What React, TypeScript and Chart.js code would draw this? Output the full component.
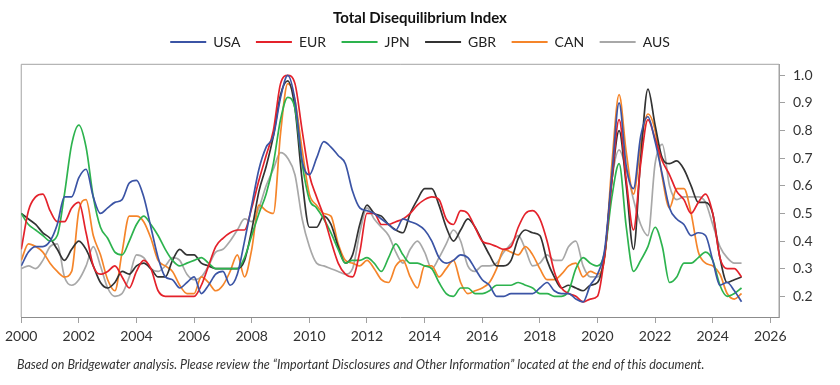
import React, { useEffect, useRef } from 'react';
import { Chart, registerables } from 'chart.js';

Chart.register(...registerables);

const FONT = 'Lato, "Noto Sans", sans-serif';
const TITLE = 'Total Disequilibrium Index';
const FOOTNOTE =
  'Based on Bridgewater analysis. Please review the \u201CImportant Disclosures and Other Information\u201D located at the end of this document.';

// Quarterly observations starting in 2000
const START_YEAR = 2000;
const QUARTERS_PER_YEAR = 4;

const X_TICKS = [2000, 2002, 2004, 2006, 2008, 2010, 2012, 2014, 2016, 2018, 2020, 2022, 2024, 2026];
const Y_TICKS = [0.2, 0.3, 0.4, 0.5, 0.6, 0.7, 0.8, 0.9, 1.0];

const USA = [
  0.31, 0.36, 0.38, 0.38,
  0.40, 0.46, 0.56, 0.56,
  0.63, 0.66, 0.56, 0.50,
  0.52, 0.54, 0.55, 0.61,
  0.62, 0.56, 0.45, 0.34,
  0.27, 0.26, 0.23, 0.25,
  0.27, 0.21, 0.24, 0.28,
  0.29, 0.24, 0.28, 0.40,
  0.53, 0.66, 0.74, 0.78,
  0.92, 1.00, 0.91, 0.69,
  0.64, 0.70, 0.76, 0.74,
  0.71, 0.68, 0.58, 0.52,
  0.51, 0.50, 0.48, 0.46,
  0.44, 0.48, 0.47, 0.46,
  0.44, 0.40, 0.34, 0.32,
  0.33, 0.35, 0.34, 0.30,
  0.26, 0.24, 0.20, 0.20,
  0.21, 0.21, 0.21, 0.21,
  0.23, 0.25, 0.22, 0.21,
  0.21, 0.19, 0.18, 0.24,
  0.28, 0.37, 0.64, 0.90,
  0.67, 0.59, 0.78, 0.85,
  0.76, 0.64, 0.52, 0.48,
  0.46, 0.42, 0.43, 0.42,
  0.33, 0.24, 0.25, 0.22,
  0.18,
];

const EUR = [
  0.37, 0.51, 0.56, 0.57,
  0.51, 0.47, 0.47, 0.52,
  0.54, 0.43, 0.31, 0.28,
  0.29, 0.31, 0.27, 0.23,
  0.29, 0.33, 0.30, 0.22,
  0.20, 0.20, 0.20, 0.20,
  0.20, 0.24, 0.31, 0.38,
  0.41, 0.43, 0.44, 0.44,
  0.52, 0.62, 0.71, 0.80,
  0.97, 1.00, 0.97, 0.80,
  0.64, 0.56, 0.49, 0.40,
  0.32, 0.28, 0.27, 0.36,
  0.50, 0.50, 0.46, 0.46,
  0.47, 0.48, 0.50, 0.53,
  0.55, 0.56, 0.55, 0.48,
  0.46, 0.51, 0.50, 0.45,
  0.40, 0.39, 0.38, 0.37,
  0.38, 0.45, 0.50, 0.51,
  0.48, 0.40, 0.29, 0.23,
  0.21, 0.20, 0.18, 0.19,
  0.20, 0.35, 0.62, 0.84,
  0.62, 0.44, 0.68, 0.84,
  0.77, 0.69, 0.64, 0.58,
  0.55, 0.50, 0.54, 0.57,
  0.50, 0.34, 0.30, 0.30,
  0.27,
];

const JPN = [
  0.50, 0.46, 0.44, 0.42,
  0.40, 0.42, 0.57, 0.75,
  0.82, 0.74, 0.56, 0.45,
  0.41, 0.36, 0.35, 0.40,
  0.46, 0.49, 0.46, 0.42,
  0.37, 0.33, 0.31, 0.32,
  0.33, 0.34, 0.32, 0.30,
  0.30, 0.30, 0.30, 0.34,
  0.42, 0.50, 0.57, 0.68,
  0.84, 0.92, 0.88, 0.68,
  0.55, 0.52, 0.48, 0.43,
  0.37, 0.32, 0.33, 0.33,
  0.34, 0.32, 0.29, 0.34,
  0.39, 0.35, 0.32, 0.32,
  0.31, 0.30, 0.25, 0.21,
  0.20, 0.23, 0.23, 0.21,
  0.21, 0.22, 0.24, 0.24,
  0.24, 0.25, 0.24, 0.23,
  0.21, 0.21, 0.20, 0.20,
  0.22, 0.30, 0.34, 0.32,
  0.31, 0.36, 0.56, 0.68,
  0.45, 0.29, 0.33, 0.38,
  0.45, 0.38, 0.25, 0.27,
  0.32, 0.32, 0.34, 0.36,
  0.33, 0.24, 0.20, 0.21,
  0.23,
];

const GBR = [
  0.50, 0.48, 0.46, 0.43,
  0.41, 0.37, 0.33, 0.37,
  0.40, 0.37, 0.31, 0.25,
  0.23, 0.25, 0.29, 0.28,
  0.31, 0.32, 0.30, 0.27,
  0.27, 0.33, 0.37, 0.35,
  0.35, 0.32, 0.31, 0.30,
  0.30, 0.30, 0.30, 0.33,
  0.44, 0.58, 0.67, 0.78,
  0.93, 0.98, 0.88, 0.62,
  0.45, 0.45, 0.49, 0.46,
  0.38, 0.32, 0.35, 0.46,
  0.53, 0.50, 0.49, 0.46,
  0.44, 0.43, 0.50, 0.55,
  0.59, 0.59, 0.53, 0.45,
  0.40, 0.44, 0.48, 0.45,
  0.40, 0.35, 0.31, 0.31,
  0.33, 0.41, 0.44, 0.43,
  0.42, 0.33, 0.27, 0.23,
  0.24, 0.23, 0.22, 0.24,
  0.25, 0.35, 0.62, 0.80,
  0.60, 0.37, 0.70, 0.95,
  0.82, 0.70, 0.68, 0.69,
  0.66, 0.60, 0.54, 0.54,
  0.50, 0.34, 0.25, 0.26,
  0.27,
];

const CAN = [
  0.33, 0.39, 0.38, 0.36,
  0.32, 0.29, 0.27, 0.29,
  0.51, 0.55, 0.42, 0.35,
  0.26, 0.22, 0.36, 0.49,
  0.49, 0.47, 0.41, 0.33,
  0.31, 0.29, 0.24, 0.21,
  0.21, 0.27, 0.25, 0.22,
  0.24, 0.29, 0.35, 0.27,
  0.37, 0.53, 0.51, 0.50,
  0.79, 0.97, 0.91, 0.73,
  0.57, 0.53, 0.50, 0.49,
  0.39, 0.33, 0.32, 0.31,
  0.33, 0.30, 0.26, 0.25,
  0.31, 0.33, 0.27, 0.23,
  0.31, 0.31, 0.27, 0.30,
  0.33, 0.25, 0.21, 0.22,
  0.23, 0.25, 0.30, 0.37,
  0.36, 0.35, 0.38, 0.35,
  0.30, 0.26, 0.26, 0.28,
  0.31, 0.32, 0.27, 0.29,
  0.28, 0.34, 0.68, 0.93,
  0.72, 0.57, 0.75, 0.86,
  0.80, 0.63, 0.52, 0.59,
  0.59, 0.50, 0.36, 0.32,
  0.31, 0.28, 0.21, 0.19,
  0.21,
];

const AUS = [
  0.30, 0.31, 0.30, 0.33,
  0.38, 0.39, 0.27, 0.24,
  0.26, 0.31, 0.38, 0.31,
  0.23, 0.20, 0.21, 0.27,
  0.35, 0.34, 0.30, 0.29,
  0.31, 0.34, 0.33, 0.28,
  0.26, 0.27, 0.31, 0.36,
  0.37, 0.40, 0.44, 0.48,
  0.47, 0.52, 0.60, 0.66,
  0.72, 0.70, 0.64, 0.48,
  0.38, 0.32, 0.31, 0.30,
  0.29, 0.28, 0.30, 0.43,
  0.52, 0.48, 0.45, 0.42,
  0.36, 0.32, 0.37, 0.40,
  0.36, 0.30, 0.34, 0.39,
  0.44, 0.40, 0.31, 0.29,
  0.31, 0.31, 0.32, 0.36,
  0.39, 0.42, 0.37, 0.31,
  0.32, 0.35, 0.33, 0.33,
  0.38, 0.40, 0.31, 0.27,
  0.27, 0.35, 0.62, 0.73,
  0.66, 0.55, 0.46, 0.42,
  0.68, 0.75, 0.60, 0.55,
  0.56, 0.56, 0.56, 0.54,
  0.46, 0.38, 0.34, 0.32,
  0.32,
];

const SERIES = [
  { label: 'USA', values: USA, color: '#3b54a5' },
  { label: 'EUR', values: EUR, color: '#e4222b' },
  { label: 'JPN', values: JPN, color: '#2db34e' },
  { label: 'GBR', values: GBR, color: '#333333' },
  { label: 'CAN', values: CAN, color: '#f5852a' },
  { label: 'AUS', values: AUS, color: '#a8a8a8' },
];

const DATES = USA.map((_, i) => START_YEAR + i / QUARTERS_PER_YEAR);

export default function App() {
  const ref = useRef<HTMLCanvasElement | null>(null);

  useEffect(() => {
    const canvas = ref.current;
    if (!canvas) return;

    const plotBox = {
      id: 'plotBox',
      beforeDatasetsDraw(chart: any) {
        const { ctx, chartArea: a } = chart;
        ctx.save();
        ctx.strokeStyle = '#a3a3a3';
        ctx.lineWidth = 1;
        ctx.beginPath();
        ctx.moveTo(a.left, a.bottom);
        ctx.lineTo(a.left, a.top);
        ctx.lineTo(a.right, a.top);
        ctx.lineTo(a.right, a.bottom);
        ctx.stroke();
        ctx.restore();
      },
    };

    const legendGap = {
      id: 'legendGap',
      afterInit(chart: any) {
        const lg = chart.legend;
        if (lg && !lg.__gapPatched) {
          const orig = lg.fit.bind(lg);
          lg.fit = function () {
            orig();
            this.height += 5.3;
          };
          lg.__gapPatched = true;
        }
      },
    };

    const chart = new Chart(canvas, {
      type: 'line',
      data: {
        datasets: SERIES.map((s) => ({
          label: s.label,
          data: DATES.map((x, i) => ({ x, y: s.values[i] })),
          borderColor: s.color,
          backgroundColor: s.color,
          borderWidth: 1.7,
          pointRadius: 0,
          pointHoverRadius: 0,
          fill: false,
          cubicInterpolationMode: 'monotone',
        })),
      },
      options: {
        responsive: false,
        animation: false,
        events: [],
        layout: { padding: { left: 17, right: 17, top: 0, bottom: 0 } },
        plugins: {
          title: {
            display: true,
            text: TITLE,
            color: '#111',
            font: { family: FONT, size: 15, weight: 'bold' },
            padding: { top: 9, bottom: -7.5 },
          },
          legend: {
            display: true,
            position: 'top',
            labels: {
              boxWidth: 36,
              boxHeight: 2,
              padding: 15.5,
              color: '#222',
              font: { family: FONT, size: 14 },
              generateLabels: (c: any) =>
                Chart.defaults.plugins.legend.labels
                  .generateLabels(c)
                  .map((l: any) => ({ ...l, lineWidth: 0 })),
            },
          },
          subtitle: {
            display: true,
            position: 'bottom',
            align: 'start',
            text: FOOTNOTE,
            color: '#333',
            font: { family: FONT, size: 12.5, style: 'italic' },
            padding: { top: 7.7, bottom: 12.5 },
          },
          tooltip: { enabled: false },
        },
        scales: {
          x: {
            type: 'linear',
            min: 2000,
            max: 2026.3,
            afterBuildTicks: (s: any) => {
              s.ticks = X_TICKS.map((v) => ({ value: v }));
            },
            grid: {
              display: true,
              drawOnChartArea: false,
              drawTicks: true,
              tickLength: 6,
              color: '#a0a0a0',
            },
            border: { display: true, color: '#8c8c8c', width: 1 },
            ticks: {
              color: '#333',
              font: { family: FONT, size: 14 },
              padding: 5,
              maxRotation: 0,
              autoSkip: false,
              callback: (v: any) => String(v),
            },
          },
          y: {
            type: 'linear',
            position: 'right',
            min: 0.125,
            max: 1.04,
            afterBuildTicks: (s: any) => {
              s.ticks = Y_TICKS.map((v) => ({ value: v }));
            },
            afterFit: (s: any) => {
              s.width = 44;
            },
            grid: {
              display: true,
              drawOnChartArea: false,
              drawTicks: true,
              tickLength: 6,
              color: '#a0a0a0',
            },
            border: { display: true, color: '#a3a3a3', width: 1 },
            ticks: {
              color: '#333',
              font: { family: FONT, size: 14 },
              padding: 8,
              callback: (v: any) => Number(v).toFixed(1),
            },
          },
        },
      },
      plugins: [plotBox, legendGap],
    } as any);

    return () => {
      chart.destroy();
    };
  }, []);

  return (
    <div style={{ position: 'absolute', left: 0, top: 0, width: 840, height: 385, background: '#fff' }}>
      <canvas ref={ref} width={840} height={385} style={{ display: 'block', width: 840, height: 385 }} />
    </div>
  );
}
